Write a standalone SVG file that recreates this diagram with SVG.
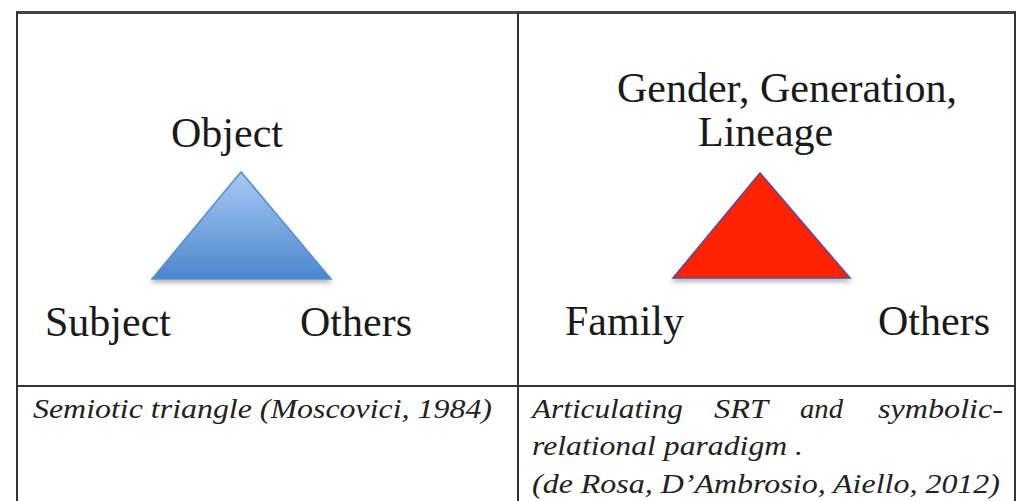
<svg xmlns="http://www.w3.org/2000/svg" width="1017" height="501" viewBox="0 0 1017 501">
<style>
text{font-family:'Liberation Serif','DejaVu Serif',serif}
.lbl{font-size:42px;fill:#1a1a1a}
.cap{font-size:27px;font-style:italic;fill:#222}
.grid{stroke:#333;stroke-width:2;fill:none}
</style>
<defs>
<linearGradient id="blue" x1="0" y1="0" x2="0" y2="1">
<stop offset="0" stop-color="#a9caf2"/>
<stop offset="1" stop-color="#4a86cf"/>
</linearGradient>
<filter id="sh" x="-20%" y="-20%" width="140%" height="150%">
<feDropShadow dx="0" dy="3" stdDeviation="2.5" flood-color="#000" flood-opacity="0.3"/>
</filter>
</defs>
<rect width="1017" height="501" fill="#fff"/>
<g id="table">
<line class="grid" x1="16" y1="12.5" x2="1016" y2="12.5" style="stroke-width:3;stroke:#444"/>
<line class="grid" x1="17" y1="12" x2="17" y2="501"/>
<line class="grid" x1="518" y1="12" x2="518" y2="501"/>
<line class="grid" x1="1015" y1="12" x2="1015" y2="501"/>
<line class="grid" x1="16" y1="386" x2="1016" y2="386"/>
</g>
<g id="connectors"></g>
<g id="blue-triangle">
<polygon points="241,172 152,279 331,279" fill="url(#blue)" stroke="#5b8ccc" stroke-width="1.5" filter="url(#sh)"/>
</g>
<g id="red-triangle">
<polygon points="760,173 673,278 850,278" fill="#ff2100" stroke="#5a4a9a" stroke-width="1.5" filter="url(#sh)"/>
</g>
<g id="object"><text class="lbl" x="227" y="147" text-anchor="middle" font-family="Liberation Serif, serif">Object</text></g>
<g id="subject"><text class="lbl" x="45" y="336" font-family="Liberation Serif, serif">Subject</text></g>
<g id="others-left"><text class="lbl" x="300" y="336" font-family="Liberation Serif, serif">Others</text></g>
<g id="gender"><text class="lbl" x="617" y="102" font-family="Liberation Serif, serif">Gender, Generation,</text>
<text class="lbl" x="698" y="146" font-family="Liberation Serif, serif">Lineage</text></g>
<g id="family"><text class="lbl" x="565" y="335" font-family="Liberation Serif, serif">Family</text></g>
<g id="others-right"><text class="lbl" x="878" y="335" font-family="Liberation Serif, serif">Others</text></g>
<g id="caption-left">
<text class="cap" x="33" y="418" textLength="459" lengthAdjust="spacingAndGlyphs">Semiotic triangle (Moscovici, 1984)</text>
</g>
<g id="caption-right">
<text class="cap" x="532" y="418" textLength="151" lengthAdjust="spacingAndGlyphs">Articulating</text>
<text class="cap" x="714" y="418" textLength="54" lengthAdjust="spacingAndGlyphs">SRT</text>
<text class="cap" x="800" y="418" textLength="43" lengthAdjust="spacingAndGlyphs">and</text>
<text class="cap" x="878" y="418" textLength="125" lengthAdjust="spacingAndGlyphs">symbolic-</text>
<text class="cap" x="532" y="455" textLength="271" lengthAdjust="spacingAndGlyphs">relational paradigm .</text>
<text class="cap" x="532" y="493" textLength="468" lengthAdjust="spacingAndGlyphs">(de Rosa, D’Ambrosio, Aiello, 2012)</text>
</g>
</svg>
